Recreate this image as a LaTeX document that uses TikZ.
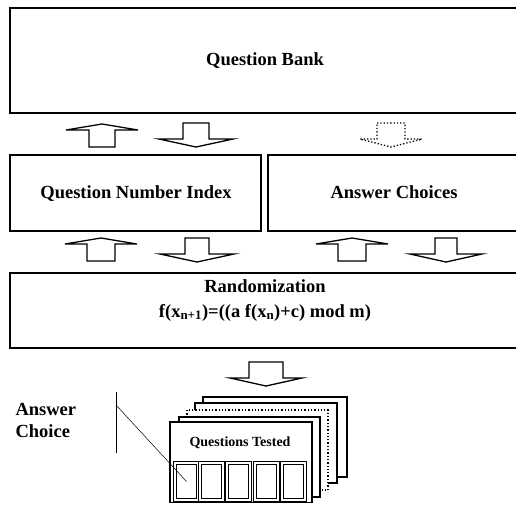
\documentclass[tikz,border=0pt]{standalone}
\usepackage{fontspec}
\setmainfont{Liberation Serif}
\begin{document}
\begin{tikzpicture}[x=1pt,y=-1pt,
  bigbox/.style={draw,line width=1.6pt},
  lbl/.style={font=\fontsize{18.5}{22}\selectfont\bfseries,anchor=base},
  blockarr/.style={draw,fill=white,line width=1.3pt,line join=miter},
  dotarr/.style={draw,fill=white,line width=1.3pt,dotted},
  card/.style={draw,fill=white,line width=1.3pt},
  cell/.style={draw,double,double distance=1.6pt,line width=1.1pt}]
\useasboundingbox (0,0) rectangle (516,504);
\newcommand{\UpArr}[5]{% cx, top y, half shaft, half wings, style
  \draw[#5] (#1-#3,#2+23) -- (#1-#3,#2+6) -- (#1-#4,#2+6) -- (#1,#2) -- (#1+#4,#2+6) -- (#1+#3,#2+6) -- (#1+#3,#2+23) -- cycle;}
\newcommand{\DnArr}[5]{%
  \draw[#5] (#1-#3,#2) -- (#1+#3,#2) -- (#1+#3,#2+16) -- (#1+#4,#2+16) -- (#1,#2+24) -- (#1-#4,#2+16) -- (#1-#3,#2+16) -- cycle;}
% boxes
\draw[bigbox] (10,8) rectangle (521,113);
\node[lbl] (qb) at (265,65) {Question Bank};
\draw[bigbox] (10,155) rectangle (261,231);
\node[lbl] (qni) at (136,198) {Question Number Index};
\draw[bigbox] (268,155) rectangle (521,231);
\node[lbl] (ac) at (394,198) {Answer Choices};
\draw[bigbox] (10,273) rectangle (521,348);
\node[lbl] (rnd) at (265,292) {Randomization};
\node[lbl] (frm) at (265,317) {f(x\textsubscript{n+1})=((a f(x\textsubscript{n})+c) mod m)};
% arrows row 1
\UpArr{102}{124}{13}{36}{blockarr}
\DnArr{196}{123}{13}{37}{blockarr}
\DnArr{391}{123}{14}{31}{dotarr}
% arrows row 2
\UpArr{101}{238}{14}{36}{blockarr}
\DnArr{197}{238}{12}{37}{blockarr}
\UpArr{352}{238}{14}{36}{blockarr}
\DnArr{446}{238}{11}{36}{blockarr}
% arrow row 3
\DnArr{266}{362}{17}{36}{blockarr}
% cards
\draw[card] (203,397) rectangle (347,477);
\draw[card] (195,403) rectangle (337,483);
\draw[card,dotted] (187,410) rectangle (328,490);
\draw[card] (179,417) rectangle (320,497);
\draw[card] (170,422) rectangle (312,502.5);
\node[font=\fontsize{14}{16}\selectfont\bfseries,anchor=base] (qt) at (240,446) {Questions Tested};
\foreach \i/\x in {1/175,2/200,3/227,4/255,5/282}{
  \draw[cell] (\x,463) rectangle (\x+23,500);
  \coordinate (c\i) at (\x+11.5,481.5);
}
% answer choice label
\node[lbl,anchor=base west] (acl1) at (12,415) {Answer};
\node[lbl,anchor=base west] (acl2) at (12,437) {Choice};
\coordinate (vt) at (116,392);
\coordinate (vb) at (116,453);
\coordinate (ds) at (116,405);
\draw[line width=0.8pt] (vt) -- (vb);
\draw[line width=0.5pt] (ds) -- (c1);
\end{tikzpicture}
\end{document}
